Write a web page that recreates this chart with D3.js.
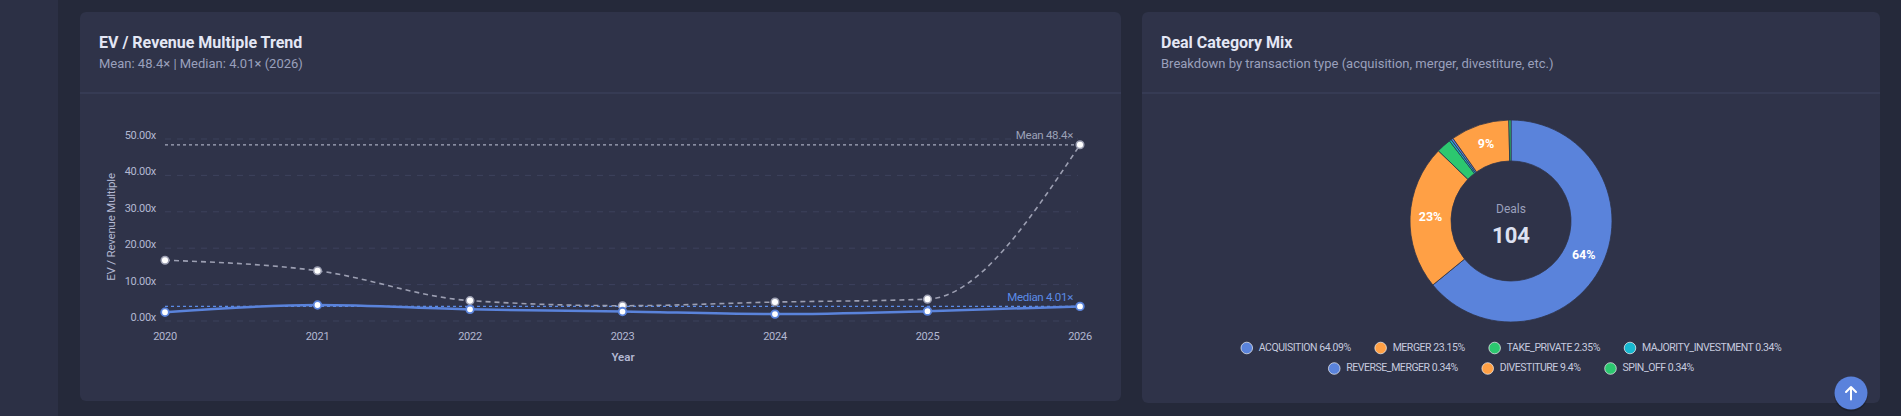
<!DOCTYPE html>
<html>
<head>
<meta charset="utf-8">
<script src="https://cdn.jsdelivr.net/npm/d3@7"></script>
<style>
  body { margin: 0; background: #25293a; overflow: hidden; }
  svg { display: block; font-family: Roboto, "Noto Sans", sans-serif; }
</style>
</head>
<body>
<script>
// chart values
let years = ["2020", "2021", "2022", "2023", "2024", "2025", "2026"];
let meanMultiple = [16.7, 13.8, 5.6, 4.2, 5.2, 6.0, 48.4];
let medianMultiple = [2.4, 4.4, 3.2, 2.6, 1.9, 2.7, 4.01];
let yTicks = [0, 10, 20, 30, 40, 50];
let meanRef = 48.4;
let medianRef = 4.01;

let categories = ["ACQUISITION", "MERGER", "TAKE_PRIVATE", "MAJORITY_INVESTMENT",
                  "REVERSE_MERGER", "DIVESTITURE", "SPIN_OFF"];
let shares = [64.09, 23.15, 2.35, 0.34, 0.34, 9.4, 0.34];
let sliceColors = ["#5a83db", "#ffa045", "#2cc76f", "#17b8d0", "#5a83db", "#ffa045", "#2cc76f"];
let totalDeals = 104;

let width = 1901;
let height = 416;

let svg = d3.select('body').append('svg')
    .attr('width', width)
    .attr('height', height);

// page chrome
svg.append('rect').attr('width', width).attr('height', height).attr('fill', '#25293a');
svg.append('rect').attr('x', 0).attr('y', 0).attr('width', 58).attr('height', height).attr('fill', '#2c3045');

let cards = [
  {x: 80, y: 12, w: 1041, h: 389, title: "EV / Revenue Multiple Trend",
   sub: "Mean: 48.4\u00d7 | Median: 4.01\u00d7 (2026)"},
  {x: 1142, y: 12, w: 738, h: 391, title: "Deal Category Mix",
   sub: "Breakdown by transaction type (acquisition, merger, divestiture, etc.)"}
];

cards.forEach(function(c) {
  svg.append('rect')
      .attr('x', c.x).attr('y', c.y)
      .attr('width', c.w).attr('height', c.h)
      .attr('rx', 6)
      .attr('fill', '#2f3349');
  svg.append('line')
      .attr('x1', c.x).attr('x2', c.x + c.w)
      .attr('y1', 93).attr('y2', 93)
      .attr('stroke', '#3f4460');
  svg.append('text')
      .attr('x', c.x + 19).attr('y', 48)
      .attr('fill', '#e4e7f5')
      .style('font-size', '16px')
      .style('font-weight', 700)
      .style('letter-spacing', '0px')
      .text(c.title);
  svg.append('text')
      .attr('x', c.x + 19).attr('y', 68)
      .attr('fill', '#9aa0bc')
      .style('font-size', '13px')
      .style('letter-spacing', '0px')
      .text(c.sub);
});

/******************************************
 * LINE CHART
 ******************************************/

let xScale = d3.scalePoint()
    .domain(years)
    .range([165, 1080]);

let yScale = d3.scaleLinear()
    .domain([0, 50])
    .range([321, 139]);

let chart = svg.append('g');
let labelColor = '#b3b8d2';

// grid lines
chart.selectAll('.grid')
    .data(yTicks)
    .enter()
    .append('line')
      .attr('x1', 165).attr('x2', 1078)
      .attr('y1', d => yScale(d)).attr('y2', d => yScale(d))
      .attr('stroke', '#3d425d')
      .attr('stroke-dasharray', '6 6');

chart.selectAll('.ytick')
    .data(yTicks)
    .enter()
    .append('text')
      .attr('x', 156)
      .attr('y', d => yScale(d) - 3)
      .attr('text-anchor', 'end')
      .attr('dominant-baseline', 'middle')
      .attr('fill', labelColor)
      .style('font-size', '11px')
      .style('letter-spacing', '-0.3px')
      .text(d => d3.format('.2f')(d) + 'x');

chart.selectAll('.xtick')
    .data(years)
    .enter()
    .append('text')
      .attr('x', d => xScale(d))
      .attr('y', 337)
      .attr('text-anchor', 'middle')
      .attr('dominant-baseline', 'middle')
      .attr('fill', labelColor)
      .style('font-size', '11px')
      .style('letter-spacing', '-0.3px')
      .text(d => d);

chart.append('text')      // x axis title
    .attr('x', (xScale.range()[0] + xScale.range()[1]) / 2 + 0.5)
    .attr('y', 358)
    .attr('text-anchor', 'middle')
    .attr('dominant-baseline', 'middle')
    .attr('fill', labelColor)
    .style('font-size', '11.5px')
    .style('font-weight', 600)
    .text('Year');

chart.append('text')      // y axis title
    .attr('transform', 'translate(112,227) rotate(-90)')
    .attr('text-anchor', 'middle')
    .attr('dominant-baseline', 'middle')
    .attr('fill', labelColor)
    .style('font-size', '11.5px')
    .style('letter-spacing', '-0.2px')
    .text('EV / Revenue Multiple');

// reference lines
let refs = [
  {v: meanRef, color: '#a6aabd', text: '#9ca1b7', label: 'Mean ' + meanRef + '\u00d7'},
  {v: medianRef, color: '#5b8be6', text: '#5b8be6', label: 'Median ' + medianRef + '\u00d7'}
];
refs.forEach(function(r) {
  chart.append('line')
      .attr('x1', 165).attr('x2', 1080)
      .attr('y1', yScale(r.v)).attr('y2', yScale(r.v))
      .attr('stroke', r.color)
      .attr('stroke-width', 1.2)
      .attr('stroke-dasharray', '3 3');
  chart.append('text')
      .attr('x', 1073)
      .attr('y', yScale(r.v) - 8.5)
      .attr('text-anchor', 'end')
      .attr('dominant-baseline', 'middle')
      .attr('fill', r.text)
      .style('font-size', '11.5px')
      .style('letter-spacing', '-0.3px')
      .text(r.label);
});

let line = d3.line()
    .x((d, i) => xScale(years[i]))
    .y(d => yScale(d))
    .curve(d3.curveMonotoneX);

chart.append('path')
    .datum(meanMultiple)
    .attr('d', line)
    .attr('fill', 'none')
    .attr('stroke', '#9c9fb2')
    .attr('stroke-width', 1.6)
    .attr('stroke-dasharray', '5 4');

chart.append('path')
    .datum(medianMultiple)
    .attr('d', line)
    .attr('fill', 'none')
    .attr('stroke', '#5a83db')
    .attr('stroke-width', 2.5);

chart.selectAll('.meanpt')
    .data(meanMultiple)
    .enter()
    .append('circle')
      .attr('cx', (d, i) => xScale(years[i]))
      .attr('cy', d => yScale(d))
      .attr('r', 3.8)
      .attr('fill', '#ffffff')
      .attr('stroke', '#9c9fb2')
      .attr('stroke-width', 1.5);

chart.selectAll('.medpt')
    .data(medianMultiple)
    .enter()
    .append('circle')
      .attr('cx', (d, i) => xScale(years[i]))
      .attr('cy', d => yScale(d))
      .attr('r', 3.8)
      .attr('fill', '#ffffff')
      .attr('stroke', '#5a83db')
      .attr('stroke-width', 1.8);

/******************************************
 * DONUT
 ******************************************/

let cx = 1511, cy = 221;
let outerR = 101, innerR = 60;

let pie = d3.pie().sort(null).value(d => d);
let arcs = pie(shares);
let arc = d3.arc().innerRadius(innerR).outerRadius(outerR);
let labelArc = d3.arc().innerRadius((innerR + outerR) / 2).outerRadius((innerR + outerR) / 2);

let donut = svg.append('g').attr('transform', 'translate(' + cx + ',' + cy + ')');

donut.selectAll('.slice')
    .data(arcs)
    .enter()
    .append('path')
      .attr('d', arc)
      .attr('fill', (d, i) => sliceColors[i])
      .attr('stroke', '#2f3349')
      .attr('stroke-width', 0.8);

donut.selectAll('.pct')
    .data(arcs.filter(d => d.data >= 5))
    .enter()
    .append('text')
      .attr('transform', d => 'translate(' + labelArc.centroid(d) + ')')
      .attr('text-anchor', 'middle')
      .attr('dominant-baseline', 'middle')
      .attr('fill', '#ffffff')
      .style('font-size', '12.5px')
      .style('font-weight', 700)
      .text(d => Math.round(d.data) + '%');

donut.append('text')
    .attr('y', -11)
    .attr('text-anchor', 'middle')
    .attr('dominant-baseline', 'middle')
    .attr('fill', '#9aa0bc')
    .style('font-size', '12px')
    .text('Deals');

donut.append('text')
    .attr('y', 16)
    .attr('text-anchor', 'middle')
    .attr('dominant-baseline', 'middle')
    .attr('fill', '#dde1f1')
    .style('font-size', '22px')
    .style('font-weight', 700)
    .text(totalDeals);

// legend, two centred rows
let legendRows = [[0, 1, 2, 3], [4, 5, 6]];
let rowY = [348, 368.5];

legendRows.forEach(function(row, r) {
  let g = svg.append('g');
  let x = 0;
  row.forEach(function(i) {
    let item = g.append('g').attr('transform', 'translate(' + x + ',0)');
    item.append('circle')
        .attr('cx', 6).attr('cy', 0).attr('r', 5.8)
        .attr('fill', sliceColors[i])
        .attr('stroke', 'rgba(255,255,255,0.65)')
        .attr('stroke-width', 1);
    let t = item.append('text')
        .attr('x', 18)
        .attr('dominant-baseline', 'middle')
        .attr('fill', '#c6cadf')
        .style('font-size', '10.5px')
        .style('letter-spacing', '-0.45px')
        .text(categories[i] + ' ' + shares[i] + '%');
    x += 18 + t.node().getComputedTextLength() + 24;
  });
  let total = x - 24;
  g.attr('transform', 'translate(' + (cx - total / 2) + ',' + rowY[r] + ')');
});

// scroll-to-top button
let btn = svg.append('g').attr('transform', 'translate(1851,393)');
btn.append('circle').attr('r', 17).attr('fill', 'rgba(0,0,0,0.18)').attr('cy', 1.5);
btn.append('circle').attr('r', 16.5).attr('fill', '#5a82dc');
btn.append('path')
    .attr('d', 'M0,6.5 V-6 M-5,-1 L0,-6 L5,-1')
    .attr('fill', 'none')
    .attr('stroke', '#ffffff')
    .attr('stroke-width', 2)
    .attr('stroke-linecap', 'round')
    .attr('stroke-linejoin', 'round');
</script>
</body>
</html>
